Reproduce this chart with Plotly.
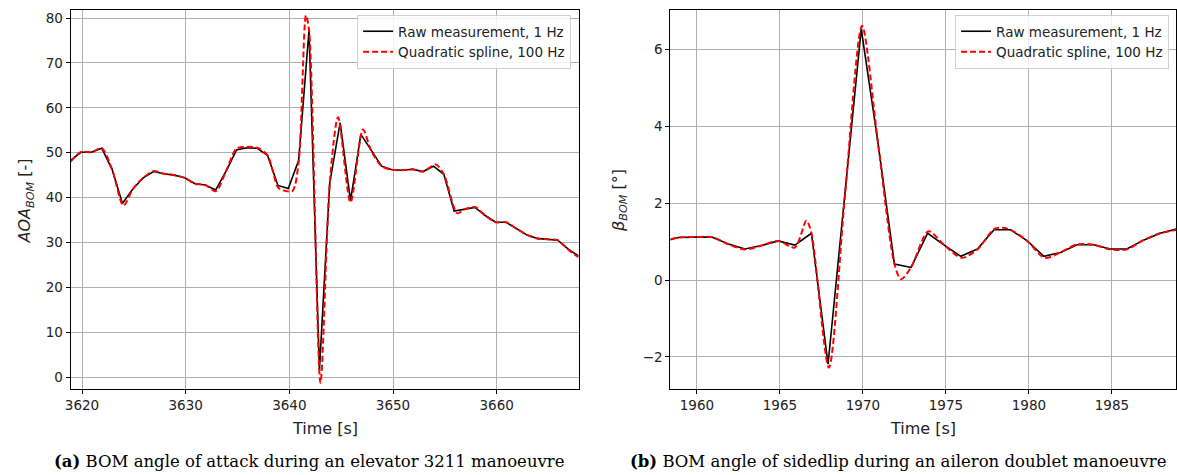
import plotly.graph_objects as go

# ---------------- data ----------------
# (a) angle of attack, raw 1 Hz samples
aoa_raw_t = [3618.9 + k for k in range(50)]
aoa_raw_v = [48.3, 50.1, 50.1, 51.0, 46.3, 38.7, 41.9, 44.4, 45.8, 45.3,
             45.0, 44.4, 43.1, 42.8, 41.7, 45.9, 50.6, 51.1, 51.0, 49.4,
             42.7, 42.0, 48.3, 77.4, 1.5, 43.3, 56.7, 39.3, 54.1, 50.4,
             47.0, 46.2, 46.1, 46.3, 45.8, 47.0, 45.2, 37.0, 37.4, 37.8,
             36.0, 34.5, 34.5, 33.1, 31.7, 30.9, 30.7, 30.5, 28.5, 27.0]

# (a) quadratic spline, key points
aoa_spl_t = [3618.9, 3619.9, 3620.9, 3621.9, 3622.9, 3624.0, 3624.9, 3625.9,
             3626.9, 3627.9, 3628.9, 3629.9, 3630.9, 3631.9, 3632.9, 3633.9,
             3634.9, 3635.9, 3636.9, 3637.9, 3638.9, 3639.4, 3640.3, 3640.9,
             3641.6, 3641.9, 3643.0, 3643.9, 3644.7, 3645.9, 3647.1, 3647.9,
             3648.9, 3649.9, 3650.9, 3651.9, 3652.9, 3654.1, 3654.9, 3656.2,
             3656.9, 3657.9, 3658.9, 3659.9, 3660.9, 3661.9, 3662.9, 3663.9,
             3664.9, 3665.9, 3666.9, 3667.9]
aoa_spl_v = [48.0, 50.2, 50.1, 51.0, 46.3, 38.2, 41.9, 44.4,
             45.9, 45.3, 45.0, 44.4, 43.1, 42.8, 41.4, 45.9,
             50.9, 51.3, 51.1, 49.4, 42.3, 41.6, 41.5, 48.0,
             80.6, 77.4, -1.3, 43.3, 57.9, 38.9, 55.2, 50.4,
             47.0, 46.2, 46.1, 46.3, 45.8, 47.4, 45.2, 36.5,
             37.4, 37.9, 36.0, 34.5, 34.5, 33.1, 31.7, 30.9,
             30.7, 30.5, 28.4, 26.7]

# (b) sideslip angle, raw 1 Hz samples
beta_raw_t = [1957.9 + k for k in range(32)]
beta_raw_v = [1.0, 1.11, 1.12, 1.12, 0.94, 0.81, 0.90, 1.02, 0.91, 1.22,
              -2.19, 2.1, 6.54, 3.6, 0.42, 0.33, 1.22, 0.91, 0.62, 0.81,
              1.31, 1.31, 1.02, 0.62, 0.72, 0.92, 0.92, 0.81, 0.81, 1.04,
              1.22, 1.33]

# (b) quadratic spline, key points
beta_spl_t = [1957.9, 1958.9, 1959.9, 1960.9, 1961.9, 1962.9, 1963.9, 1964.9,
              1965.9, 1966.6, 1966.9, 1967.95, 1968.9, 1969.95, 1970.9, 1971.9,
              1972.3, 1972.9, 1973.95, 1974.9, 1975.95, 1976.9, 1977.9, 1978.4,
              1978.9, 1979.9, 1980.95, 1981.9, 1982.9, 1983.9, 1984.9, 1985.9,
              1986.9, 1987.9, 1988.9]
beta_spl_v = [1.0, 1.11, 1.12, 1.12, 0.93, 0.80, 0.90, 1.02,
              0.85, 1.55, 1.22, -2.28, 2.1, 6.62, 3.6, 0.42,
              0.02, 0.33, 1.27, 0.91, 0.58, 0.80, 1.33, 1.36,
              1.31, 1.02, 0.58, 0.72, 0.93, 0.92, 0.80, 0.80,
              1.04, 1.22, 1.31]

leg_raw = "Raw measurement, 1 Hz"
leg_spl = "Quadratic spline, 100 Hz"
xlabel = "Time [s]"
ylabel_a = "<i>AOA</i><sub><i>BOM</i></sub> [-]"
ylabel_b = "<i>β</i><sub><i>BOM</i></sub> [°]"
caption_a = "<b>(a)</b> BOM angle of attack during an elevator 3211 manoeuvre"
caption_b = "<b>(b)</b> BOM angle of sidedlip during an aileron doublet manoeuvre"

# ---------------- figure ----------------
W, H = 1177, 475
fig = go.Figure()

fig.add_trace(go.Scatter(x=aoa_raw_t, y=aoa_raw_v, mode="lines", name=leg_raw,
                         line=dict(color="black", width=1.6),
                         xaxis="x", yaxis="y", legend="legend"))
fig.add_trace(go.Scatter(x=aoa_spl_t, y=aoa_spl_v, mode="lines", name=leg_spl,
                         line=dict(color="red", width=2, dash="6px,3px",
                                   shape="spline", smoothing=0.8),
                         xaxis="x", yaxis="y", legend="legend"))
fig.add_trace(go.Scatter(x=beta_raw_t, y=beta_raw_v, mode="lines", name=leg_raw,
                         line=dict(color="black", width=1.6),
                         xaxis="x2", yaxis="y2", legend="legend2"))
fig.add_trace(go.Scatter(x=beta_spl_t, y=beta_spl_v, mode="lines", name=leg_spl,
                         line=dict(color="red", width=2, dash="6px,3px",
                                   shape="spline", smoothing=0.8),
                         xaxis="x2", yaxis="y2", legend="legend2"))

tickfont = dict(family="DejaVu Sans", size=13.5, color="#222222")
common = dict(showline=True, linecolor="black", linewidth=1, mirror=True,
              ticks="outside", ticklen=4, tickcolor="black", tickwidth=1,
              showgrid=True, gridcolor="#b0b0b0", gridwidth=0.8,
              zeroline=False, tickfont=tickfont)

ydom = [(H - 389) / H, (H - 9.5) / H]
legfont = dict(family="DejaVu Sans", size=13.5, color="#222222")
fig.update_layout(
    width=W, height=H,
    margin=dict(l=0, r=0, t=0, b=0),
    paper_bgcolor="white", plot_bgcolor="white",
    xaxis=dict(domain=[65 / W, 576 / W], range=[3618.9, 3667.9], dtick=10,
               anchor="y", **common),
    yaxis=dict(domain=ydom, range=[-2.7, 81.7], dtick=10, anchor="x", **common),
    xaxis2=dict(domain=[668.3 / W, 1.0], range=[1958.4, 1988.86], dtick=5,
                anchor="y2", **common),
    yaxis2=dict(domain=ydom, range=[-2.84, 7.02], dtick=2, anchor="x2", **common),
    legend=dict(x=568.5 / W, y=(H - 14) / H, xanchor="right", yanchor="top",
                bgcolor="rgba(255,255,255,0.85)", bordercolor="#d0d0d0",
                borderwidth=1, font=legfont, entrywidth=182, entrywidthmode="pixels"),
    legend2=dict(x=1170 / W, y=(H - 14) / H, xanchor="right", yanchor="top",
                 bgcolor="rgba(255,255,255,0.85)", bordercolor="#d0d0d0",
                 borderwidth=1, font=legfont, entrywidth=182, entrywidthmode="pixels"),
)

labfont = dict(family="DejaVu Sans", size=16, color="#222222")
capfont = dict(family="DejaVu Serif", size=16.5, color="black")
ann = [
    dict(text=xlabel, x=320.5 / W, y=(H - 428) / H, font=labfont),
    dict(text=xlabel, x=922 / W, y=(H - 428) / H, font=labfont),
    dict(text=ylabel_a, x=20 / W, y=(H - 200) / H, textangle=-90, font=labfont),
    dict(text=ylabel_b, x=617 / W, y=(H - 200) / H, textangle=-90, font=labfont),
    dict(text=caption_a, x=305 / W, y=(H - 461) / H, font=capfont),
    dict(text=caption_b, x=897 / W, y=(H - 461) / H, font=capfont),
]
for a in ann:
    a.update(xref="paper", yref="paper", showarrow=False,
             xanchor="center", yanchor="middle")
fig.update_layout(annotations=ann)

fig.write_html("out.html")
